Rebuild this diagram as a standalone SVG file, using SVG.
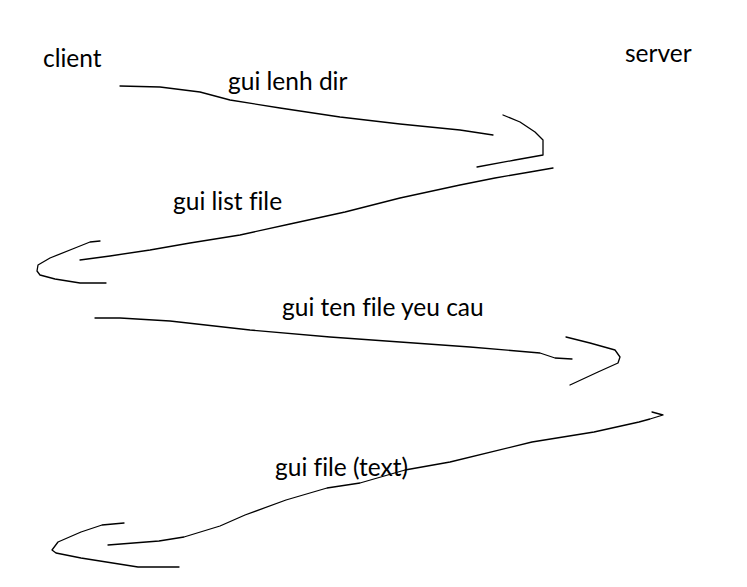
<svg xmlns="http://www.w3.org/2000/svg" width="747" height="587" viewBox="0 0 747 587">
<style>
.t{font-family:Lato,"Open Sans","Liberation Sans",sans-serif;font-size:24.5px;fill:#000;font-variant-ligatures:none;font-feature-settings:"liga" 0}
.s{fill:none;stroke:#000;stroke-width:1.3;stroke-linejoin:round;stroke-linecap:round}
</style>
<rect width="747" height="587" fill="#fff"/>
<g id="client"><text class="t" x="43" y="67">client</text></g>
<g id="server"><text class="t" x="625" y="62">server</text></g>
<g id="connectors">
<g id="msg1">
<polyline class="s" points="120,86 160,87 200,92 230,100 280,108 340,117 400,124 460,130 493,135"/>
<polyline class="s" points="503,115 520,122 535,132 543,140 543,155 515,160 477,167"/>
<text class="t" x="228" y="90">gui lenh dir</text>
</g>
<g id="msg2">
<polyline class="s" points="553,168 530,172 495,178 460,185 400,198 345,212 290,224 240,235 190,243 150,250 110,256 80,260"/>
<polyline class="s" points="100,241 90,242 75,248 50,258 38,265 37,271 40,275 55,279 80,283 106,283"/>
<text class="t" x="173" y="210">gui list file</text>
</g>
<g id="msg3">
<polyline class="s" points="95,318 120,318 170,321 250,330 330,337 400,342 470,347 540,353 555,358 572,359"/>
<polyline class="s" points="566,337 590,343 615,350 620,357 618,363 598,372 570,385"/>
<text class="t" x="282" y="316">gui ten file yeu cau</text>
</g>
<g id="msg4">
<polyline class="s" points="652,412 663,415 650,419 639,422 594,432 532,442 450,462 405,470 360,483 327,488 286,500 245,515 220,526 184,537 159,541 108,545"/>
<polyline class="s" points="124,523 102,525 81,532 58,542 52,550 56,553 81,558 138,567 179,567"/>
<text class="t" x="275" y="476">gui file (text)</text>
</g>
</g>
</svg>
